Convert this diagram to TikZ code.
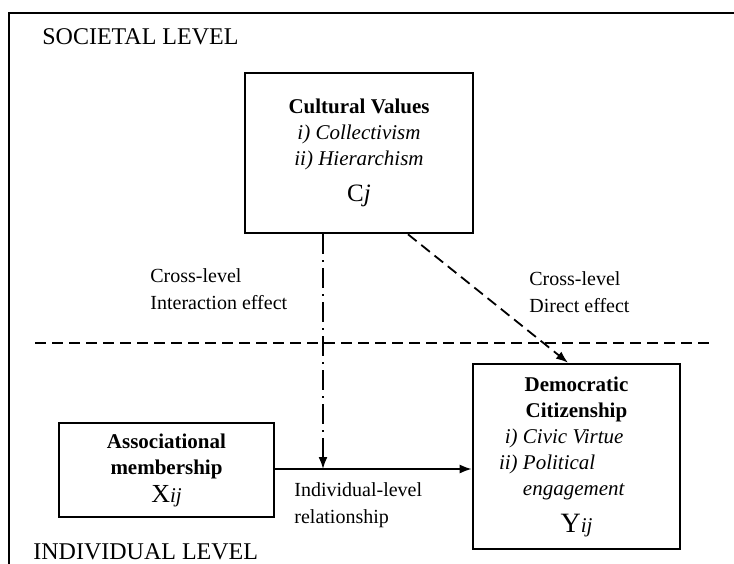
\documentclass[tikz,border=0pt]{standalone}
\usepackage{fontspec}
\setmainfont{Liberation Serif}
\usetikzlibrary{positioning,arrows.meta}

% one item line of the citizenship box, label hanging to the left
\newcommand{\dcitem}[2]{\makebox[5.1em][l]{\llap{\textit{#1}~}\textit{#2}}}

\begin{document}
\begin{tikzpicture}[
    x=0.5pt, y=-0.5pt,
    box/.style={
        draw,
        line width=1.3pt,
        align=center,
        inner sep=0pt,
        font=\fontsize{10.5}{13}\selectfont
        },
    lbl/.style={
        align=left,
        anchor=west,
        inner sep=0pt,
        font=\fontsize{10}{13.5}\selectfont
        },
    level/.style={
        anchor=west,
        inner sep=0pt,
        font=\fontsize{12}{14}\selectfont
        },
    link/.style={
        line width=0.9pt,
        -{Latex[length=6pt,width=4.5pt]}
        },
]

\clip (0,0) rectangle (734,563);
\draw[line width=1pt] (9,13) rectangle (780,620);

\node[level](sl) at (42,37){SOCIETAL LEVEL};
\node[level](ilv) at (33,552){INDIVIDUAL LEVEL};

\node[box, minimum width=114pt, minimum height=80pt](cv) at (359,153){%
    \textbf{Cultural Values}\\
    \textit{i) Collectivism}\\
    \textit{ii) Hierarchism}\\[5pt]
    {\fontsize{12.5}{13}\selectfont C\textit{j}}};
\node[box, minimum width=103.5pt, minimum height=92.5pt](dc) at (576.5,456.5){%
    \textbf{Democratic}\\
    \textbf{Citizenship}\\
    \dcitem{i)}{Civic Virtue}\\
    \dcitem{ii)}{Political}\\
    \dcitem{}{engagement}\\[5.5pt]
    {\fontsize{14}{13}\selectfont Y}\textit{ij}};
\node[box, minimum width=107.5pt, minimum height=47pt](am) at (166.5,470){%
    \textbf{Associational}\\
    \textbf{membership}\\[1pt]
    {\fontsize{13}{13}\selectfont X}\textit{ij}};

\node[lbl](ci) at (150,289){Cross-level\\Interaction effect};
\node[lbl](cd) at (529,292){Cross-level\\Direct effect};
\node[lbl](il) at (294,505){Individual-level\\relationship};

% level boundary
\coordinate(b1) at (35,343);
\coordinate(b2) at (710,343);
\draw[line width=0.9pt, dash pattern=on 5.5pt off 3pt] (b1) -- (b2);

\coordinate(ix) at (323,469);
\draw[link] (am.east |- ix) -- (dc.west |- ix);
\draw[link, dash pattern=on 10pt off 3pt on 1pt off 3pt] (ix |- cv.south) -- (ix);
\draw[link, dash pattern=on 5.5pt off 3pt] ([xshift=24.5pt]cv.south) -- ([xshift=-4.25pt]dc.north);

\end{tikzpicture}
\end{document}
